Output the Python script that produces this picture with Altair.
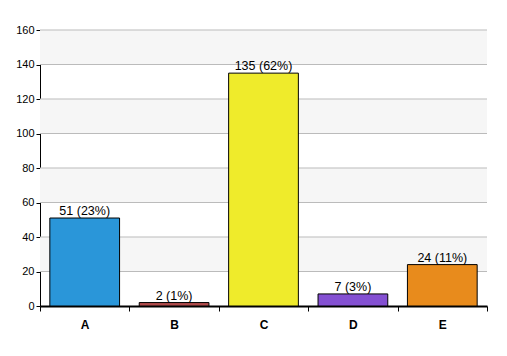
import altair as alt
import pandas as pd

categories = ["A", "B", "C", "D", "E"]
counts = [51, 2, 135, 7, 24]
labels = ["51 (23%)", "2 (1%)", "135 (62%)", "7 (3%)", "24 (11%)"]
colors = ["#2a96d9", "#b04a4a", "#efeb2b", "#8450d2", "#e88b1c"]
band_lo = [20, 60, 100, 140]
band_hi = [40, 80, 120, 160]
grid_values = [20, 40, 60, 80, 100, 120, 140, 160]
tick_values = [0, 20, 40, 60, 80, 100, 120, 140, 160]

df = pd.DataFrame({"cat": categories, "count": counts, "label": labels})
bands = pd.DataFrame({"lo": band_lo, "hi": band_hi})
grid = pd.DataFrame({"g": grid_values})

FONT = "Liberation Sans"

xscale = alt.Scale(domain=categories, paddingInner=0, paddingOuter=0)
yscale = alt.Scale(domain=[0, 160], nice=False)

yaxis = alt.Axis(title=None, values=tick_values, labelOverlap=False,
                 labelFont=FONT, labelFontSize=11, labelColor="black",
                 tickColor="black", tickSize=4, domainColor="black",
                 grid=False, labelPadding=2)

band_layer = alt.Chart(bands).mark_rect(color="#f6f6f6").encode(
    y=alt.Y("lo:Q", scale=yscale, axis=yaxis),
    y2="hi:Q",
    x=alt.value(0),
    x2=alt.value(447),
)

grid_layer = alt.Chart(grid).mark_rule(color="#bbbbbb", strokeWidth=1).encode(
    y=alt.Y("g:Q", scale=yscale, axis=yaxis),
    x=alt.value(0),
    x2=alt.value(447),
)

bars = alt.Chart(df).mark_bar(stroke="black", strokeWidth=1, width={"band": 0.78}).encode(
    x=alt.X("cat:N", scale=xscale, sort=categories,
            axis=alt.Axis(title=None, labelAngle=0, tickBand="extent",
                          labelFont=FONT, labelFontSize=12, labelFontWeight="bold",
                          labelColor="black", tickColor="black", tickSize=5,
                          domainColor="black", domainWidth=2, labelPadding=8,
                          grid=False)),
    y=alt.Y("count:Q", scale=yscale, axis=yaxis),
    color=alt.Color("cat:N", scale=alt.Scale(domain=categories, range=colors), legend=None),
)

text = alt.Chart(df).mark_text(baseline="bottom", dy=0, font=FONT, fontSize=12.5,
                               color="black").encode(
    x=alt.X("cat:N", scale=xscale, sort=categories),
    y=alt.Y("count:Q", scale=yscale, axis=yaxis),
    text="label:N",
)

chart = alt.layer(band_layer, grid_layer, bars, text).properties(
    width=447, height=276,
    autosize=alt.AutoSizeParams(type="none"),
    padding={"left": 40, "top": 30, "right": 20, "bottom": 50},
    background="white",
).configure_view(stroke=None).configure_axis(labelOverlap=False)

chart.save("out.html", embed_options={"renderer": "svg", "actions": False})
